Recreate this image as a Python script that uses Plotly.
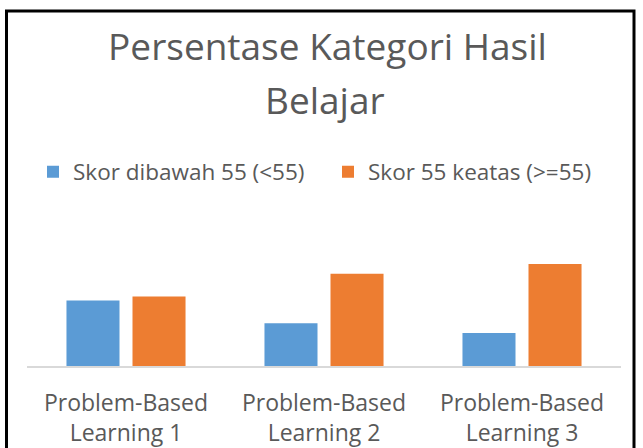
import plotly.graph_objects as go

categories = ["Problem-Based<br>Learning 1", "Problem-Based<br>Learning 2", "Problem-Based<br>Learning 3"]
series_names = ["Skor dibawah 55 (<55)", "Skor 55 keatas (>=55)"]
below_55 = [48.6, 31.6, 24.4]
above_55 = [51.4, 68.4, 75.6]
colors = ["#5B9BD5", "#ED7D31"]
title_line1 = "Persentase Kategori Hasil"
title_line2 = "Belajar"

W, H = 643, 448
L, R, T, B = 27, 22, 258, 82
PW, PH = W - L - R, H - T - B
FONT = "Open Sans"
TXT = "#595959"

def px_x(x):
    return (x - L) / PW

def px_y(y):
    return (H - B - y) / PH

fig = go.Figure()
for name, vals, col in zip(series_names, [below_55, above_55], colors):
    fig.add_trace(go.Bar(x=categories, y=vals, name=name, marker_color=col,
                         marker_line_width=0, hoverinfo="x+y+name"))

fig.update_layout(
    width=W, height=H,
    margin=dict(l=L, r=R, t=T, b=B, pad=0, autoexpand=False),
    paper_bgcolor="white", plot_bgcolor="white",
    barmode="group", bargap=0.333, bargroupgap=0.197,
    font=dict(family=FONT, color=TXT),
    title=dict(text=title_line1, x=327.5 / W, xanchor="center", xref="container",
               y=1 - 47.5 / H, yanchor="middle", yref="container",
               font=dict(family=FONT, size=37, color=TXT)),
    legend=dict(orientation="h", x=33 / W, xanchor="left", xref="container",
                y=1 - 172 / H, yanchor="middle", yref="container",
                entrywidth=250, entrywidthmode="pixels",
                font=dict(family=FONT, size=22.5, color=TXT),
                itemclick=False, itemdoubleclick=False),
    xaxis=dict(showline=True, linecolor="#D9D9D9", linewidth=2, ticks="",
               showgrid=False, zeroline=False, ticklabelstandoff=15,
               automargin=False,
               tickfont=dict(family=FONT, size=23, color=TXT), fixedrange=True),
    yaxis=dict(visible=False, range=[0, 80], showgrid=False, zeroline=False,
               automargin=False, fixedrange=True),
    annotations=[dict(text=title_line2, xref="paper", yref="paper",
                      x=px_x(325), y=px_y(99.5), xanchor="center", yanchor="middle",
                      showarrow=False, font=dict(family=FONT, size=37, color=TXT))],
    shapes=[dict(type="rect", xref="paper", yref="paper",
                 x0=px_x(6.5), x1=px_x(634), y0=px_y(11), y1=px_y(470),
                 line=dict(color="black", width=3), fillcolor="rgba(0,0,0,0)")],
)

fig.write_html("out.html", config={"displayModeBar": False},
               post_script="document.body.style.margin='0px';")
